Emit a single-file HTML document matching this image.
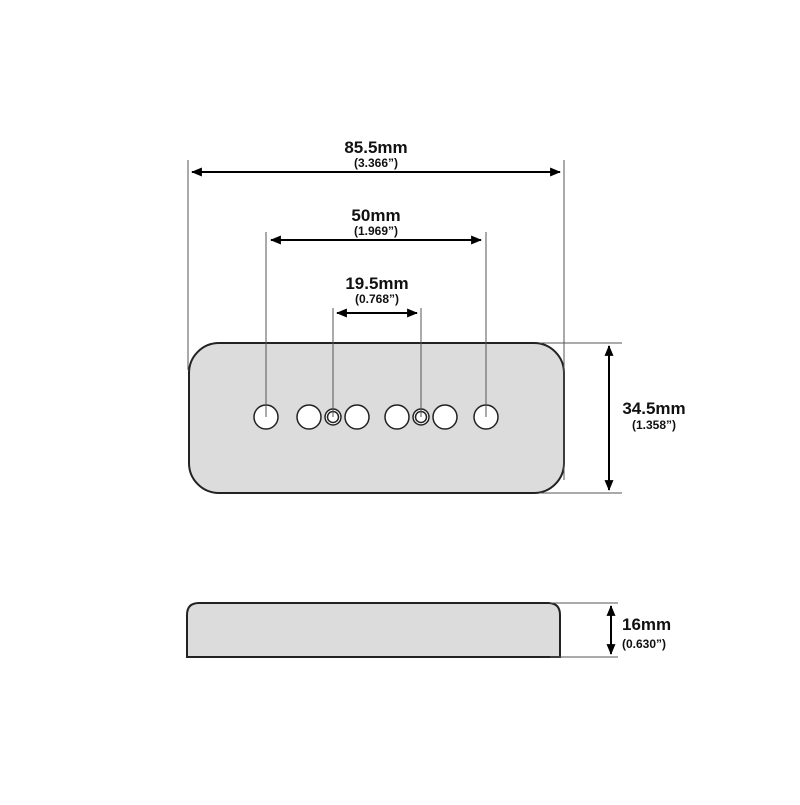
<!DOCTYPE html><html><head><style>body{margin:0;background:#fff}</style></head><body>
<svg width="800" height="800" xmlns="http://www.w3.org/2000/svg" font-family="Liberation Sans, sans-serif">
<defs><marker id="a" viewBox="0 0 12 10" refX="11" refY="5" markerWidth="12" markerHeight="9" markerUnits="userSpaceOnUse" orient="auto-start-reverse"><path d="M0,0L12,5L0,10z" fill="#000"/></marker></defs>
<rect x="189" y="343" width="375" height="150" rx="30" fill="#dcdcdc" stroke="#222" stroke-width="2"/>
<path d="M187,657 V615 Q187,603 199,603 H548 Q560,603 560,615 V657 Z" fill="#dcdcdc" stroke="#222" stroke-width="2"/>
<g stroke="#555" stroke-width="1" fill="none">
<line x1="188" y1="160" x2="188" y2="370"/><line x1="564" y1="160" x2="564" y2="480"/>
<line x1="540" y1="343" x2="622" y2="343"/><line x1="540" y1="493" x2="622" y2="493"/>
<line x1="550" y1="603" x2="618" y2="603"/><line x1="550" y1="657" x2="618" y2="657"/>
</g>
<g stroke="#222" stroke-width="1.5" fill="#fff">
<circle cx="266" cy="417" r="12"/><circle cx="309" cy="417" r="12"/><circle cx="357" cy="417" r="12"/>
<circle cx="397" cy="417" r="12"/><circle cx="445" cy="417" r="12"/><circle cx="486" cy="417" r="12"/>
<circle cx="333" cy="417" r="8"/><circle cx="333" cy="417" r="5.5"/>
<circle cx="421" cy="417" r="8"/><circle cx="421" cy="417" r="5.5"/>
</g>
<g stroke="#555" stroke-width="1" fill="none">
<line x1="266" y1="232" x2="266" y2="417"/><line x1="486" y1="232" x2="486" y2="417"/>
<line x1="333" y1="308" x2="333" y2="417"/><line x1="421" y1="308" x2="421" y2="417"/>
</g>
<g stroke="#000" stroke-width="2" marker-start="url(#a)" marker-end="url(#a)">
<line x1="192" y1="172" x2="560" y2="172"/>
<line x1="271" y1="240" x2="481" y2="240"/>
<line x1="337" y1="313" x2="417" y2="313"/>
<line x1="609" y1="346" x2="609" y2="490"/>
<line x1="611" y1="606" x2="611" y2="654"/>
</g>
<g font-weight="bold" text-anchor="middle" fill="#111">
<text x="376" y="153" font-size="17">85.5mm</text><text x="376" y="167" font-size="12">(3.366”)</text>
<text x="376" y="221" font-size="17">50mm</text><text x="376" y="235" font-size="12">(1.969”)</text>
<text x="377" y="289" font-size="17">19.5mm</text><text x="377" y="303" font-size="12">(0.768”)</text>
<text x="654" y="414" font-size="17">34.5mm</text><text x="654" y="429" font-size="12">(1.358”)</text>
</g>
<g font-weight="bold" fill="#111">
<text x="622" y="630" font-size="17">16mm</text><text x="622" y="648" font-size="12">(0.630”)</text>
</g>
</svg></body></html>
